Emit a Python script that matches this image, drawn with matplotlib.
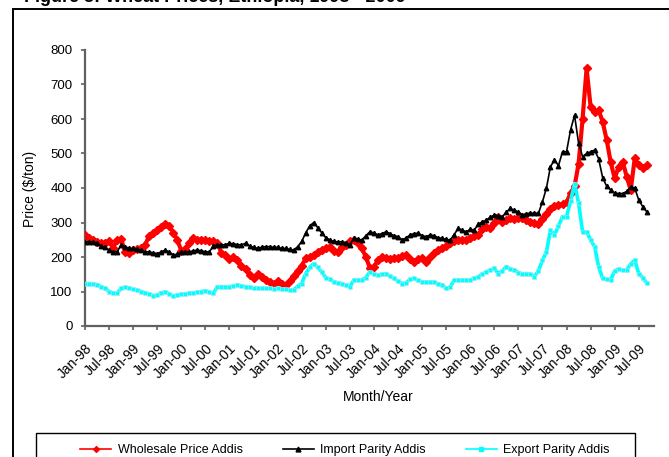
import matplotlib
matplotlib.use("Agg")
import matplotlib.pyplot as plt
from matplotlib.lines import Line2D
from matplotlib.patches import Rectangle
import matplotlib.transforms as mtransforms
import numpy as np

plt.rcParams['font.family'] = ['Liberation Sans', 'DejaVu Sans']

# Monthly series, Jan-1998 .. Sep-2009 (US$/ton)
wholesale = [
    264, 256, 249, 244, 240, 242, 246, 226, 250, 252, 215, 212,   # 1998
    220, 222, 226, 235, 262, 270, 278, 288, 297, 290, 270, 250,   # 1999
    218, 222, 240, 255, 250, 250, 248, 247, 245, 240, 212, 205,   # 2000
    195, 200, 190, 175, 165, 148, 138, 150, 142, 133, 128, 123,   # 2001
    130, 122, 120, 130, 145, 160, 175, 196, 200, 206, 215, 220,   # 2002
    226, 230, 218, 215, 228, 235, 245, 249, 240, 225, 200, 168,   # 2003
    172, 190, 201, 196, 195, 198, 196, 202, 205, 195, 186, 194,   # 2004
    196, 186, 200, 212, 220, 225, 232, 240, 245, 249, 250, 250,   # 2005
    254, 262, 264, 280, 288, 283, 300, 317, 302, 308, 312, 310,   # 2006
    312, 312, 308, 302, 298, 297, 310, 326, 340, 348, 352, 353,   # 2007
    358, 385, 405, 470, 600, 747, 636, 621, 626, 592, 540, 475,   # 2008
    428, 462, 476, 433, 394, 486, 467, 457, 467,                  # 2009
]
import_parity = [
    244, 244, 244, 240, 232, 228, 220, 215, 215, 235, 230, 225,   # 1998
    225, 222, 220, 215, 215, 212, 210, 215, 220, 215, 206, 208,   # 1999
    215, 214, 215, 218, 220, 218, 215, 215, 232, 235, 235, 236,   # 2000
    240, 238, 236, 235, 240, 232, 228, 225, 228, 230, 230, 228,   # 2001
    228, 225, 225, 222, 220, 230, 245, 270, 290, 300, 285, 270,   # 2002
    256, 250, 245, 244, 244, 242, 235, 254, 252, 249, 262, 273,   # 2003
    270, 264, 268, 273, 268, 262, 259, 250, 255, 264, 268, 269,   # 2004
    262, 259, 264, 262, 256, 254, 251, 249, 265, 283, 278, 273,   # 2005
    280, 278, 295, 302, 307, 315, 322, 320, 317, 330, 341, 335,   # 2006
    331, 322, 326, 327, 327, 327, 360, 400, 462, 481, 465, 505,   # 2007
    505, 568, 611, 530, 491, 500, 505, 510, 485, 430, 405, 395,   # 2008
    385, 384, 384, 390, 404, 400, 365, 346, 331,                  # 2009
]
export_parity = [
    123, 123, 122, 120, 114, 109, 100, 95, 95, 109, 112, 110,     # 1998
    106, 104, 100, 96, 93, 88, 90, 96, 99, 93, 87, 90,            # 1999
    92, 93, 95, 96, 98, 100, 102, 98, 95, 114, 114, 114,          # 2000
    114, 116, 119, 116, 114, 112, 109, 110, 109, 109, 109, 108,   # 2001
    109, 107, 106, 104, 104, 115, 123, 152, 170, 181, 170, 157,   # 2002
    140, 135, 128, 125, 123, 118, 114, 133, 133, 134, 140, 157,   # 2003
    150, 148, 150, 152, 145, 138, 130, 123, 125, 135, 138, 132,   # 2004
    128, 128, 127, 128, 122, 119, 109, 112, 133, 133, 133, 133,   # 2005
    133, 138, 143, 150, 157, 162, 167, 152, 160, 172, 165, 162,   # 2006
    155, 151, 152, 150, 143, 160, 190, 215, 278, 264, 290, 317,   # 2007
    317, 361, 413, 356, 273, 273, 250, 230, 172, 138, 135, 133,   # 2008
    160, 165, 162, 162, 180, 191, 152, 140, 125,                  # 2009
]
tick_labels = []
for yr in range(98, 110):
    tick_labels += ["Jan-%02d" % (yr % 100), "Jul-%02d" % (yr % 100)]

series_names = ["Wholesale Price Addis", "Import Parity Addis", "Export Parity Addis"]

W, H = 669, 457
fig = plt.figure(figsize=(W / 100, H / 100), dpi=100)
ax = fig.add_axes([85 / W, 1 - 326 / H, (654 - 85) / W, (326 - 50) / H])

months = np.arange(len(wholesale))
ax.plot(months, wholesale, color='#ff0000', lw=3.0, marker='D', ms=4.0,
        mec='#ff0000', mfc='#ff0000', zorder=3, solid_joinstyle='round')
ax.plot(months, import_parity, color='#000000', lw=1.2, marker='^', ms=3.2,
        mec='#000000', mfc='#000000', zorder=4)
ax.plot(months, export_parity, color='#00ffff', lw=2.6, marker='s', ms=3.2,
        mec='#b8e4ee', mew=0.4, mfc='#00ffff', zorder=5, solid_joinstyle='round')

ax.set_xlim(0, 141.8)
ax.set_ylim(0, 800)
ax.set_yticks(range(0, 801, 100))
n = len(tick_labels)
ax.set_xticks(np.arange(0, 6 * 24, 6)[:n])
ax.set_xticklabels(tick_labels, rotation=45, ha='right', va='top',
                   rotation_mode='anchor', fontsize=10)
offset = mtransforms.ScaledTranslation(4 / 100, 0, fig.dpi_scale_trans)
for lab in ax.get_xticklabels():
    lab.set_transform(lab.get_transform() + offset)
for lab in ax.get_yticklabels():
    lab.set_fontsize(9.5)

for s in ['top', 'right']:
    ax.spines[s].set_visible(False)
for s in ['left', 'bottom']:
    ax.spines[s].set_color('#606060')
    ax.spines[s].set_linewidth(1.6)
ax.tick_params(axis='y', direction='out', length=3, width=1.2, color='#606060', pad=6)
ax.tick_params(axis='x', direction='out', length=3, width=1.2, color='#606060', pad=8)

fig.text(30 / W, 1 - 189 / H, "Price ($/ton)", rotation=90, ha='center', va='center', fontsize=10)
fig.text(378 / W, 1 - 397 / H, "Month/Year", ha='center', va='center', fontsize=10)

# Title (mostly cut off at the top edge)
fig.text(24 / W, 1 - 1.5 / H, "Figure 3: Wheat Prices, Ethiopia, 1998 - 2009",
         ha='left', va='baseline', fontsize=13, fontweight='bold')

# outer chart frame
fig.add_artist(Rectangle((13 / W, -0.2), 1.2, 1.2 - 9 / H, transform=fig.transFigure,
                         fill=False, edgecolor='#000000', lw=1.4))
# legend frame
fig.add_artist(Rectangle((36 / W, -0.2), (635 - 36) / W, 0.2 + 1 - 433 / H,
                         transform=fig.transFigure, fill=False, edgecolor='#000000', lw=1.0))

handles = [
    Line2D([], [], color='#ff0000', lw=1.2, marker='D', ms=3),
    Line2D([], [], color='#000000', lw=1.2, marker='^', ms=3.5),
    Line2D([], [], color='#00ffff', lw=1.2, marker='s', ms=3),
]
fig.legend(handles, series_names, loc='center left', ncol=3, frameon=False,
           bbox_to_anchor=(80 / W, 1 - 450 / H), borderpad=0, borderaxespad=0,
           handlelength=2.5, handletextpad=0.5, columnspacing=3.2, fontsize=9,
           numpoints=1)

fig.savefig("out.png", dpi=100)
